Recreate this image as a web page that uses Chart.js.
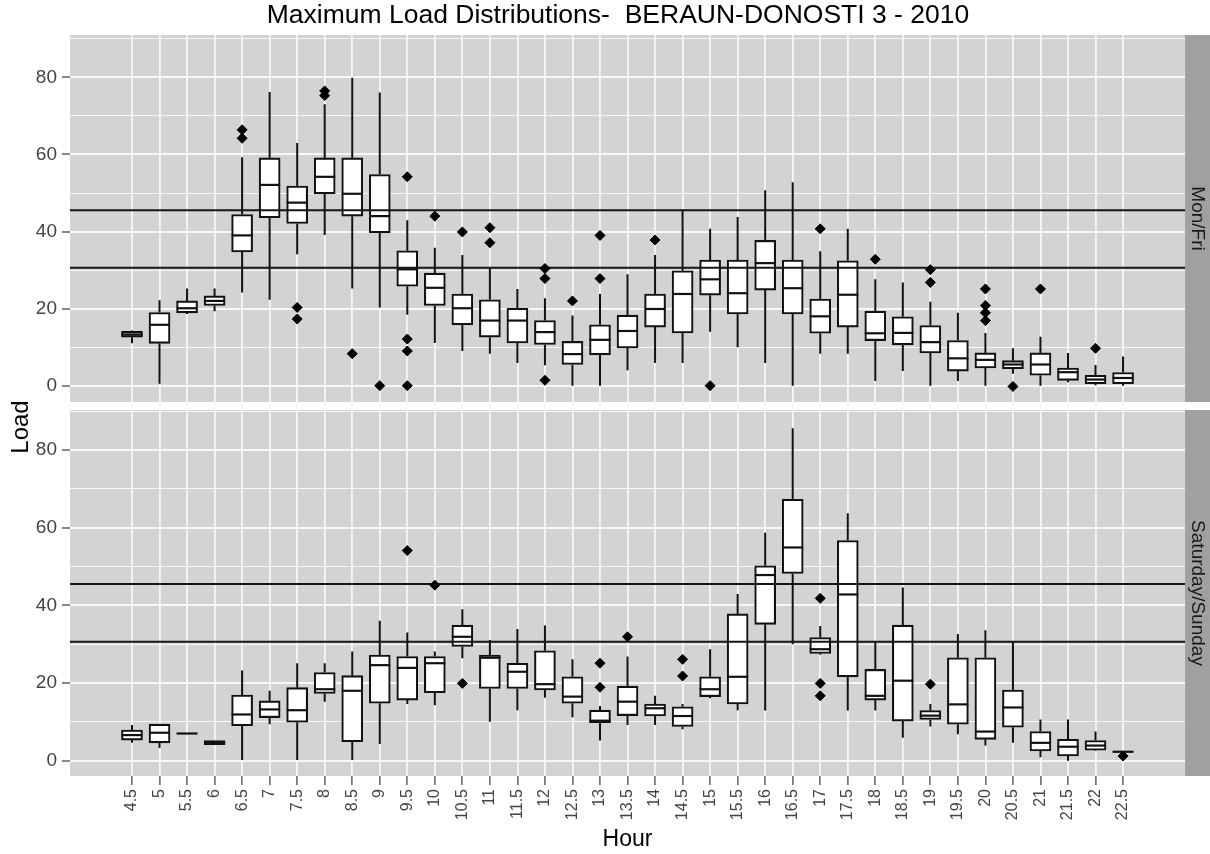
<!DOCTYPE html>
<html>
<head>
<meta charset="utf-8">
<script src="https://cdn.jsdelivr.net/npm/chart.js@4.4.1/dist/chart.umd.min.js"></script>
<style>
html,body{margin:0;padding:0;background:#ffffff;}
#wrap{width:1210px;height:854px;position:relative;}
</style>
</head>
<body>
<div id="wrap"><canvas id="c" width="1210" height="854"></canvas></div>
<script>
// ---------- categories ----------
const hours = [4.5,5,5.5,6,6.5,7,7.5,8,8.5,9,9.5,10,10.5,11,11.5,12,12.5,13,13.5,14,14.5,15,15.5,16,16.5,17,17.5,18,18.5,19,19.5,20,20.5,21,21.5,22,22.5];
const hourLabels = ['4.5','5','5.5','6','6.5','7','7.5','8','8.5','9','9.5','10','10.5','11','11.5','12','12.5','13','13.5','14','14.5','15','15.5','16','16.5','17','17.5','18','18.5','19','19.5','20','20.5','21','21.5','22','22.5'];
const loadTicks = [0,20,40,60,80];
const limitLines = [45.5, 30.6];
const panelNames = ['Mon/Fri', 'Saturday/Sunday'];

// ---------- Mon/Fri boxes ----------
const wkLo  = [11,0.5,18.6,19.3,24.2,22.3,34.1,39.1,25.2,20.3,18.4,11.1,9.0,8.3,5.9,5.3,0,0,4.0,5.9,5.9,14.0,10.0,5.9,0,8.3,8.3,1.2,3.8,0,1.2,0,3.1,0,0.9,0.1,0];
const wkQ1  = [12.6,11.0,18.9,20.8,34.7,43.6,42.1,49.8,44.0,39.7,25.8,20.8,15.8,12.6,11.1,10.7,5.5,8.0,9.8,15.2,13.7,23.5,18.6,24.8,18.6,13.6,15.2,11.7,10.6,8.5,3.8,4.6,4.4,2.7,1.4,0.5,0.5];
const wkMed = [13.3,15.8,20.1,22.0,39.0,52.1,47.5,54.2,49.8,44.0,30.2,25.4,20.1,16.9,16.9,13.9,8.2,11.9,14.2,19.9,23.8,27.6,24.0,31.8,25.3,18.0,23.6,13.6,13.7,11.3,7.1,6.7,5.5,5.5,3.5,1.6,2.0];
const wkQ3  = [14.1,19.0,22.0,23.3,44.4,59.1,51.8,59.1,59.1,54.8,35.0,29.2,23.8,22.3,20.1,16.9,11.5,15.8,18.3,23.8,29.8,32.6,32.6,37.7,32.6,22.5,32.4,19.3,17.9,15.6,11.7,8.5,6.5,8.5,4.6,2.7,3.4];
const wkHi  = [14.3,22.2,25.2,25.2,59.3,76.2,63.0,73.0,79.9,76.1,42.9,35.8,33.9,30.6,25.1,22.7,18.2,23.8,28.9,33.9,45.7,40.7,43.8,50.7,52.8,34.9,40.7,27.6,26.8,21.8,18.9,13.7,9.7,12.7,8.5,5.4,7.6];
const wkOutHour = [6.5,6.5,7.5,7.5,8,8,8.5,9,9.5,9.5,9.5,9.5,10,10.5,11,11,12,12,12,12.5,13,13,14,15,17,18,19,19,20,20,20,20,20.5,21,22];
const wkOutVal  = [64.2,66.4,20.3,17.3,75.3,76.5,8.3,0,54.2,12.1,9.0,0,44.0,39.9,41.0,37.1,30.4,27.8,1.4,22.0,39.0,27.8,37.8,0,40.7,32.8,30.1,26.8,25.1,20.8,18.9,16.9,-0.2,25.1,9.7];

// ---------- Saturday/Sunday boxes ----------
const weLo  = [4.6,3.3,7.0,4.1,0.2,9.4,0.2,15.2,0.2,4.3,14.6,14.3,26.4,10.0,13.0,16.2,11.2,5.2,9.2,9.2,8.1,16.1,13.0,12.9,30.0,27.3,12.9,12.9,5.9,8.8,6.8,3.9,4.6,0.9,0,2.5,2.3];
const weQ1  = [5.3,4.6,7.0,4.1,9.0,11.1,9.9,17.3,4.9,14.8,15.6,17.5,29.4,18.6,18.6,18.2,14.8,9.8,11.6,11.5,8.8,16.5,14.6,35.1,48.2,27.6,21.6,15.6,10.2,10.6,9.4,5.5,8.6,2.5,1.2,2.7,2.3];
const weMed = [6.6,7.2,7.0,4.6,11.9,13.2,13.0,18.4,18.0,24.6,23.9,25.1,31.9,26.5,22.9,19.7,16.5,10.3,15.2,13.5,11.5,18.4,21.6,47.8,54.9,28.7,42.8,16.7,20.6,11.6,14.5,7.5,13.7,4.6,3.6,3.9,2.3];
const weQ3  = [7.9,9.4,7.0,5.2,16.9,15.4,18.8,22.7,21.9,27.2,26.8,26.8,34.9,27.2,25.1,28.3,21.6,13.0,19.2,14.6,13.9,21.6,37.8,50.2,67.3,31.7,56.7,23.5,34.9,12.9,26.5,26.5,18.2,7.5,5.5,5.2,2.3];
const weHi  = [9.2,9.4,7.0,5.2,23.2,18.0,25.1,25.1,28.1,36.0,33.0,28.1,39.0,31.1,33.9,34.8,26.1,14.1,26.8,16.7,14.6,28.7,42.9,58.7,85.6,34.7,63.7,30.8,44.6,14.6,32.6,33.6,30.6,10.6,10.6,7.5,2.3];
const weOutHour = [9.5,10,10.5,13,13,13.5,14.5,14.5,17,17,17,19,22.5];
const weOutVal  = [54.1,45.2,19.9,25.1,18.9,31.9,26.1,21.8,41.8,19.9,16.7,19.7,1.2];

// ---------- styling ----------
const FONT = '"Liberation Sans", Arial, Helvetica, sans-serif';
const PANEL_BG = '#d3d3d3';
const STRIP_BG = '#a0a0a0';
const GRID = '#f7f7f7';
const TICK_TXT = '#444444';
const INK = '#111111';

const panels = [
  {scale:'yTop', box:0, lo:wkLo, q1:wkQ1, med:wkMed, q3:wkQ3, hi:wkHi, name:panelNames[0]},
  {scale:'yBot', box:1, lo:weLo, q1:weQ1, med:weMed, q3:weQ3, hi:weHi, name:panelNames[1]}
];

function panelRect(chart, p) {
  const a = chart.chartArea, s = chart.scales[p.scale];
  if (p.scale === 'yTop') return {top:a.top, bottom:s.bottom - 3.5};
  return {top:s.top + 4.5, bottom:a.bottom};
}

const boxPlugin = {
  id: 'boxplot',
  beforeDraw(chart) {
    const {ctx, chartArea:a} = chart;
    ctx.save();
    panels.forEach(p => {
      const r = panelRect(chart, p);
      ctx.fillStyle = PANEL_BG;
      ctx.fillRect(a.left, r.top, a.right - a.left, r.bottom - r.top);
      ctx.fillStyle = STRIP_BG;
      ctx.fillRect(a.right, r.top, chart.width - a.right, r.bottom - r.top);
    });
    ctx.restore();
  },
  beforeDatasetsDraw(chart) {
    const ctx = chart.ctx;
    ctx.save();
    ctx.strokeStyle = INK;
    ctx.lineWidth = 2;
    panels.forEach(p => {
      const ys = chart.scales[p.scale];
      chart.getDatasetMeta(p.box).data.forEach((el, i) => {
        const x = el.x;
        ctx.beginPath();
        ctx.moveTo(x, ys.getPixelForValue(p.hi[i]));
        ctx.lineTo(x, ys.getPixelForValue(p.q3[i]));
        ctx.moveTo(x, ys.getPixelForValue(p.q1[i]));
        ctx.lineTo(x, ys.getPixelForValue(p.lo[i]));
        ctx.stroke();
      });
    });
    ctx.restore();
  },
  afterDatasetDraw(chart, args) {
    const p = panels.find(q => q.box === args.index);
    if (!p) return;
    const ctx = chart.ctx, a = chart.chartArea, ys = chart.scales[p.scale];
    ctx.save();
    ctx.strokeStyle = INK;
    ctx.lineWidth = 2.2;
    args.meta.data.forEach((el, i) => {
      const y = ys.getPixelForValue(p.med[i]);
      ctx.beginPath();
      ctx.moveTo(el.x - el.width / 2, y);
      ctx.lineTo(el.x + el.width / 2, y);
      ctx.stroke();
    });
    ctx.lineWidth = 2;
    ctx.strokeStyle = '#161616';
    limitLines.forEach(v => {
      const y = ys.getPixelForValue(v);
      ctx.beginPath();
      ctx.moveTo(a.left, y);
      ctx.lineTo(a.right, y);
      ctx.stroke();
    });
    ctx.restore();
  },
  afterDraw(chart) {
    const {ctx, chartArea:a} = chart;
    ctx.save();
    ctx.fillStyle = '#000';
    ctx.textAlign = 'center';
    ctx.textBaseline = 'middle';
    ctx.font = '26.5px ' + FONT;
    ctx.fillText('Maximum Load Distributions-  BERAUN-DONOSTI 3 - 2010', 618, 16);
    // y axis title
    ctx.save();
    ctx.translate(21, 427);
    ctx.rotate(-Math.PI / 2);
    ctx.font = '24px ' + FONT;
    ctx.fillText('Load', 0, 0);
    ctx.restore();
    // strip labels
    panels.forEach(p => {
      const r = panelRect(chart, p);
      ctx.save();
      ctx.translate((a.right + chart.width) / 2, (r.top + r.bottom) / 2);
      ctx.rotate(Math.PI / 2);
      ctx.font = '19px ' + FONT;
      ctx.fillStyle = '#1a1a1a';
      ctx.fillText(p.name, 0, 0);
      ctx.restore();
    });
    ctx.restore();
  }
};

function yScale(weight, min, max) {
  return {
    type: 'linear', position: 'left', stack: 'panels', stackWeight: 1, weight: weight,
    min: min, max: max,
    afterFit: s => { s.width = 70; },
    ticks: {
      stepSize: 10, includeBounds: false, autoSkip: false,
      color: TICK_TXT, font: {size: 19, family: FONT}, padding: 5,
      callback: v => loadTicks.includes(v) ? String(v) : ''
    },
    grid: {
      color: GRID,
      lineWidth: c => (c.tick && loadTicks.includes(c.tick.value)) ? 2 : 1,
      tickLength: 8,
      tickWidth: 1.4,
      tickColor: c => (c.tick && loadTicks.includes(c.tick.value)) ? '#555555' : 'rgba(0,0,0,0)'
    },
    border: {display: false}
  };
}

const boxStyle = {
  backgroundColor: '#ffffff', borderColor: INK, borderWidth: 2.1, borderSkipped: false,
  barThickness: 21, grouped: false, order: 3, xAxisID: 'x'
};
const outStyle = {
  pointStyle: 'rectRot', pointRadius: 5, backgroundColor: '#000', borderColor: '#000',
  borderWidth: 1, order: 1, xAxisID: 'x', showLine: false
};

new Chart(document.getElementById('c'), {
  type: 'bar',
  data: {
    datasets: [
      Object.assign({type: 'bar', label: panelNames[0], yAxisID: 'yTop',
        data: hours.map((h, i) => ({x: h, y: [wkQ1[i], wkQ3[i]]}))}, boxStyle),
      Object.assign({type: 'bar', label: panelNames[1], yAxisID: 'yBot',
        data: hours.map((h, i) => ({x: h, y: [weQ1[i], weQ3[i]]}))}, boxStyle),
      Object.assign({type: 'scatter', label: panelNames[0] + ' outliers', yAxisID: 'yTop',
        data: wkOutHour.map((h, i) => ({x: h, y: wkOutVal[i]}))}, outStyle),
      Object.assign({type: 'scatter', label: panelNames[1] + ' outliers', yAxisID: 'yBot',
        data: weOutHour.map((h, i) => ({x: h, y: weOutVal[i]}))}, outStyle)
    ]
  },
  options: {
    responsive: false,
    animation: false,
    devicePixelRatio: 1,
    layout: {padding: {top: 35, right: 25, bottom: 0, left: 0}},
    plugins: {legend: {display: false}, tooltip: {enabled: false}, title: {display: false}},
    scales: {
      x: {
        type: 'linear', position: 'bottom', min: 3.374, max: 23.625, offset: false,
        afterBuildTicks: s => { s.ticks = hours.map(v => ({value: v})); },
        afterFit: s => { s.height = 78; },
        ticks: {
          autoSkip: false, minRotation: 90, maxRotation: 90, padding: 4,
          color: TICK_TXT, font: {size: 16, family: FONT},
          callback: (v, i) => hourLabels[i]
        },
        grid: {color: GRID, lineWidth: 1.8, offset: false, tickLength: 9, tickWidth: 1.4, tickColor: '#555555'},
        border: {display: false},
        title: {display: true, text: 'Hour', color: '#000', font: {size: 23, family: FONT}, padding: {top: 0, bottom: 1}}
      },
      yTop: yScale(1, -5.14, 91.0),
      yBot: yScale(0, -3.94, 91.45)
    }
  },
  plugins: [boxPlugin]
});
</script>
</body>
</html>
